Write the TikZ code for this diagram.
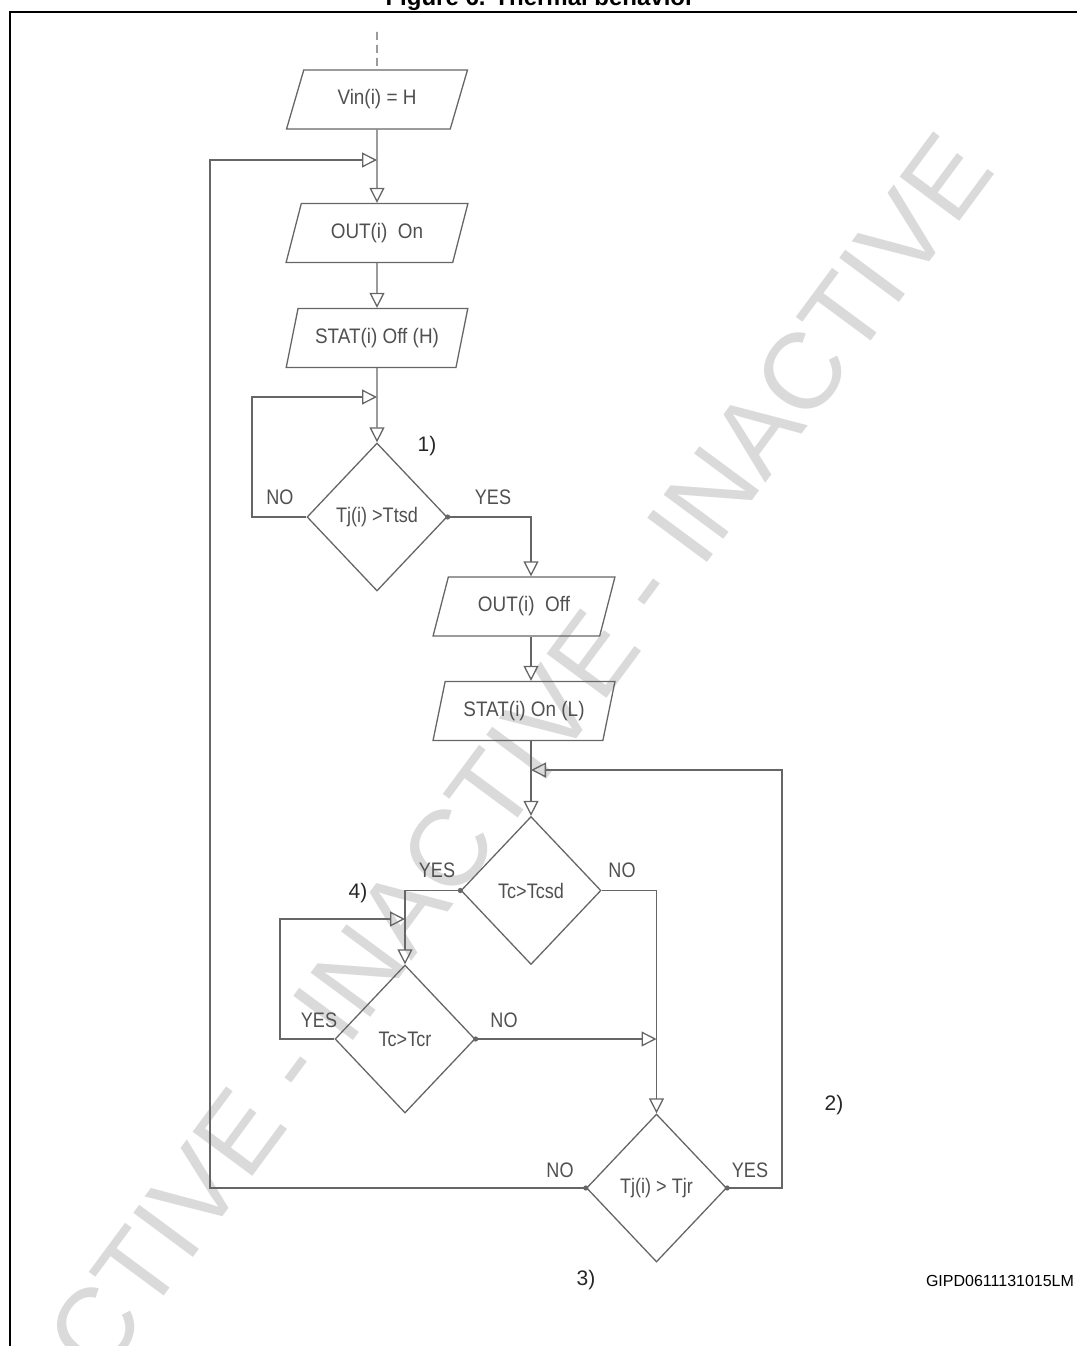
\documentclass[tikz,border=0pt]{standalone}
\usepackage{fontspec}
\setmainfont{Liberation Sans}
\newfontfamily\fcfont[FakeStretch=0.86]{Liberation Sans}
\newfontfamily\bxfont[FakeStretch=0.9]{Liberation Sans}
\usetikzlibrary{shapes.geometric,arrows.meta}
\definecolor{ln}{HTML}{666666}
\definecolor{tx}{HTML}{505050}
\definecolor{wmc}{HTML}{DADADA}
\begin{document}
\begin{tikzpicture}[x=1pt,y=-1pt,
  conn/.style={draw=ln, line width=1.3pt},
  arr/.style={conn, -{Triangle[open, length=15pt, width=15pt]}},
  io/.style={trapezium, trapezium left angle=64.6, trapezium right angle=115.4,
    trapezium stretches=true, draw=ln, line width=1.3pt, minimum width=182pt,
    minimum height=59pt, inner sep=0pt, font=\bxfont\fontsize{21}{24}\selectfont, text=tx},
  dec/.style={diamond, aspect=1, draw=ln, line width=1.3pt, minimum width=140pt,
    minimum height=148pt, inner sep=0pt, font=\fcfont\fontsize{21}{24}\selectfont, text=tx},
  lab/.style={font=\fcfont\fontsize{21}{24}\selectfont, text=tx, inner sep=0pt},
  num/.style={font=\fontsize{21}{24}\selectfont, text=black!85, inner sep=0pt},
  wmark/.style={font=\fontsize{108}{120}\selectfont, text=wmc, inner sep=0pt},
  jdot/.style={fill=ln}
]
\useasboundingbox (0,0) rectangle (1076,1346);
% watermark
\node[wmark, rotate=53.5] (wm) at (466,826) {INACTIVE - INACTIVE - INACTIVE};
% title and frame
\node[font=\bfseries\fontsize{24}{28}\selectfont, anchor=base, inner sep=0pt] (title) at (540,6) {Figure 6. Thermal behavior};
\coordinate (fr1) at (1100,12);
\coordinate (fr2) at (10,12);
\coordinate (fr3) at (10,1370);
\draw[line width=2.2pt] (fr1) -- (fr2) -- (fr3);
% nodes
\coordinate (start) at (377,32);
\node[io] (vin) at (377,99.5) {Vin(i) = H};
\node[io] (on) at (377,233) {OUT(i)\ \ On};
\node[io] (soff) at (377,338) {STAT(i) Off (H)};
\node[dec] (d1) at (377,517) {Tj(i) >Ttsd};
\node[io] (off) at (524,606.5) {OUT(i)\ \ Off};
\node[io] (son) at (524,711) {STAT(i) On (L)};
\node[dec] (d2) at (531,890.5) {Tc>Tcsd};
\node[dec] (d3) at (405,1039) {Tc>Tcr};
\node[dec] (d4) at (656.5,1188) {Tj(i) > Tjr};
% junction coordinates
\coordinate (j1) at (377,160);
\coordinate (j2) at (377,397);
\coordinate (j3) at (531,770);
\coordinate (j4) at (405,919);
\coordinate (j5) at (656.5,1039);
% connectors
\draw[conn, dash pattern=on 8pt off 5pt] (start) -- (vin.north);
\draw[arr] (vin.south) -- (on.north);
\draw[arr] (d4.west) -| (210,160) -- (j1);
\draw[arr] (on.south) -- (soff.north);
\draw[arr] (soff.south) -- (d1.north);
\draw[arr] (d1.west) -| (252,397) -- (j2);
\draw[arr] (d1.east) -| (off.north -| d2.north);
\draw[arr] (off.south -| d2.north) -- (son.north -| d2.north);
\draw[arr] (son.south -| d2.north) -- (d2.north);
\draw[arr] (d4.east) -| (782,770) -- (j3);
\draw[arr] (d2.west) -| (d3.north);
\draw[arr] (d3.west) -| (280,919) -- (j4);
\draw[arr] (d2.east) -| (d4.north);
\draw[arr] (d3.east) -- (j5);
% dots
\fill[jdot] (d1.east) circle (2.6pt);
\fill[jdot] (d2.west) circle (2.6pt);
\fill[jdot] (d3.east) circle (2.6pt);
\fill[jdot] (d4.west) circle (2.6pt);
\fill[jdot] (d4.east) circle (2.6pt);
% labels
\node[lab] (l1) at (280,497) {NO};
\node[lab] (l2) at (493,497) {YES};
\node[lab] (l3) at (437,870) {YES};
\node[lab] (l4) at (622,870) {NO};
\node[lab] (l5) at (319,1020) {YES};
\node[lab] (l6) at (504,1020) {NO};
\node[lab] (l7) at (560,1170) {NO};
\node[lab] (l8) at (750,1170) {YES};
\node[num] (n1) at (427,446) {1)};
\node[num] (n2) at (834,1105) {2)};
\node[num] (n3) at (586,1280) {3)};
\node[num] (n4) at (358,893) {4)};
\node[font=\fontsize{16}{18}\selectfont, inner sep=0pt] (code) at (1000,1281) {GIPD0611131015LM};
\end{tikzpicture}
\end{document}
